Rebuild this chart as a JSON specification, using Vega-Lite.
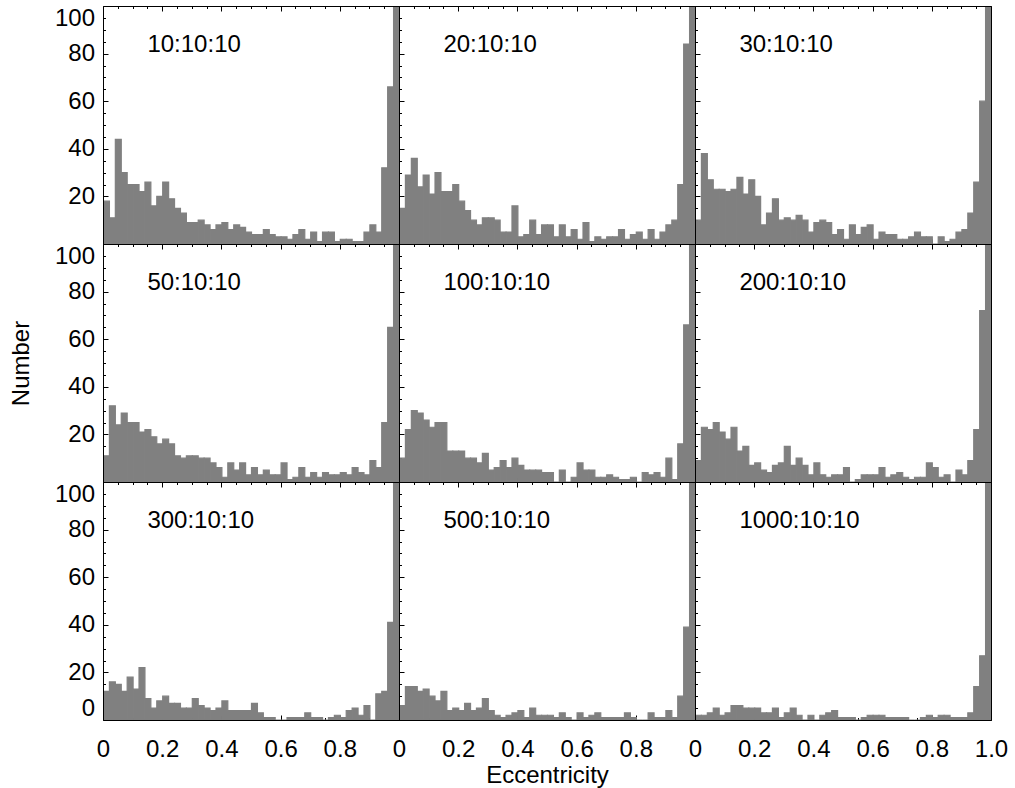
{
"$schema":"https://vega.github.io/schema/vega-lite/v6.json",
"background":"white",
"padding":{"left":8,"top":5,"right":5,"bottom":0},
"datasets":{"h":[
{"p":"10:10:10","e":0,"n":18},{"p":"10:10:10","e":0.02,"n":11},{"p":"10:10:10","e":0.04,"n":44},{"p":"10:10:10","e":0.06,"n":30},{"p":"10:10:10","e":0.08,"n":25},{"p":"10:10:10","e":0.1,"n":25},{"p":"10:10:10","e":0.12,"n":22},{"p":"10:10:10","e":0.14,"n":26},{"p":"10:10:10","e":0.16,"n":16},{"p":"10:10:10","e":0.18,"n":20},{"p":"10:10:10","e":0.2,"n":26},{"p":"10:10:10","e":0.22,"n":19},{"p":"10:10:10","e":0.24,"n":15},{"p":"10:10:10","e":0.26,"n":13},{"p":"10:10:10","e":0.28,"n":9},{"p":"10:10:10","e":0.3,"n":9},{"p":"10:10:10","e":0.32,"n":10},{"p":"10:10:10","e":0.34,"n":8},{"p":"10:10:10","e":0.36,"n":6},{"p":"10:10:10","e":0.38,"n":8},{"p":"10:10:10","e":0.4,"n":9},{"p":"10:10:10","e":0.42,"n":6},{"p":"10:10:10","e":0.44,"n":8},{"p":"10:10:10","e":0.46,"n":7},{"p":"10:10:10","e":0.48,"n":5},{"p":"10:10:10","e":0.5,"n":4},{"p":"10:10:10","e":0.52,"n":4},{"p":"10:10:10","e":0.54,"n":6},{"p":"10:10:10","e":0.56,"n":4},{"p":"10:10:10","e":0.58,"n":3},{"p":"10:10:10","e":0.6,"n":3},{"p":"10:10:10","e":0.62,"n":2},{"p":"10:10:10","e":0.64,"n":4},{"p":"10:10:10","e":0.66,"n":6},{"p":"10:10:10","e":0.68,"n":2},{"p":"10:10:10","e":0.7,"n":5},{"p":"10:10:10","e":0.72,"n":1},{"p":"10:10:10","e":0.74,"n":5},{"p":"10:10:10","e":0.76,"n":5},{"p":"10:10:10","e":0.78,"n":1},{"p":"10:10:10","e":0.8,"n":2},{"p":"10:10:10","e":0.82,"n":2},{"p":"10:10:10","e":0.84,"n":1},{"p":"10:10:10","e":0.86,"n":1},{"p":"10:10:10","e":0.88,"n":5},{"p":"10:10:10","e":0.9,"n":8},{"p":"10:10:10","e":0.92,"n":5},{"p":"10:10:10","e":0.94,"n":32},{"p":"10:10:10","e":0.96,"n":66},{"p":"10:10:10","e":0.98,"n":120},
{"p":"20:10:10","e":0,"n":15},{"p":"20:10:10","e":0.02,"n":29},{"p":"20:10:10","e":0.04,"n":36},{"p":"20:10:10","e":0.06,"n":24},{"p":"20:10:10","e":0.08,"n":29},{"p":"20:10:10","e":0.1,"n":21},{"p":"20:10:10","e":0.12,"n":30},{"p":"20:10:10","e":0.14,"n":22},{"p":"20:10:10","e":0.16,"n":22},{"p":"20:10:10","e":0.18,"n":25},{"p":"20:10:10","e":0.2,"n":18},{"p":"20:10:10","e":0.22,"n":14},{"p":"20:10:10","e":0.24,"n":10},{"p":"20:10:10","e":0.26,"n":8},{"p":"20:10:10","e":0.28,"n":11},{"p":"20:10:10","e":0.3,"n":11},{"p":"20:10:10","e":0.32,"n":10},{"p":"20:10:10","e":0.34,"n":5},{"p":"20:10:10","e":0.36,"n":5},{"p":"20:10:10","e":0.38,"n":16},{"p":"20:10:10","e":0.4,"n":3},{"p":"20:10:10","e":0.42,"n":4},{"p":"20:10:10","e":0.44,"n":10},{"p":"20:10:10","e":0.46,"n":4},{"p":"20:10:10","e":0.48,"n":8},{"p":"20:10:10","e":0.5,"n":8},{"p":"20:10:10","e":0.52,"n":3},{"p":"20:10:10","e":0.54,"n":8},{"p":"20:10:10","e":0.56,"n":3},{"p":"20:10:10","e":0.58,"n":6},{"p":"20:10:10","e":0.6,"n":2},{"p":"20:10:10","e":0.62,"n":9},{"p":"20:10:10","e":0.64,"n":1},{"p":"20:10:10","e":0.66,"n":3},{"p":"20:10:10","e":0.68,"n":2},{"p":"20:10:10","e":0.7,"n":3},{"p":"20:10:10","e":0.72,"n":3},{"p":"20:10:10","e":0.74,"n":6},{"p":"20:10:10","e":0.76,"n":2},{"p":"20:10:10","e":0.78,"n":4},{"p":"20:10:10","e":0.8,"n":5},{"p":"20:10:10","e":0.82,"n":2},{"p":"20:10:10","e":0.84,"n":6},{"p":"20:10:10","e":0.86,"n":2},{"p":"20:10:10","e":0.88,"n":5},{"p":"20:10:10","e":0.9,"n":8},{"p":"20:10:10","e":0.92,"n":10},{"p":"20:10:10","e":0.94,"n":25},{"p":"20:10:10","e":0.96,"n":84},{"p":"20:10:10","e":0.98,"n":120},
{"p":"30:10:10","e":0,"n":10},{"p":"30:10:10","e":0.02,"n":38},{"p":"30:10:10","e":0.04,"n":27},{"p":"30:10:10","e":0.06,"n":23},{"p":"30:10:10","e":0.08,"n":23},{"p":"30:10:10","e":0.1,"n":22},{"p":"30:10:10","e":0.12,"n":23},{"p":"30:10:10","e":0.14,"n":28},{"p":"30:10:10","e":0.16,"n":21},{"p":"30:10:10","e":0.18,"n":27},{"p":"30:10:10","e":0.2,"n":20},{"p":"30:10:10","e":0.22,"n":8},{"p":"30:10:10","e":0.24,"n":13},{"p":"30:10:10","e":0.26,"n":19},{"p":"30:10:10","e":0.28,"n":10},{"p":"30:10:10","e":0.3,"n":11},{"p":"30:10:10","e":0.32,"n":10},{"p":"30:10:10","e":0.34,"n":12},{"p":"30:10:10","e":0.36,"n":10},{"p":"30:10:10","e":0.38,"n":5},{"p":"30:10:10","e":0.4,"n":9},{"p":"30:10:10","e":0.42,"n":10},{"p":"30:10:10","e":0.44,"n":9},{"p":"30:10:10","e":0.46,"n":4},{"p":"30:10:10","e":0.48,"n":6},{"p":"30:10:10","e":0.5,"n":2},{"p":"30:10:10","e":0.52,"n":8},{"p":"30:10:10","e":0.54,"n":4},{"p":"30:10:10","e":0.56,"n":7},{"p":"30:10:10","e":0.58,"n":8},{"p":"30:10:10","e":0.6,"n":2},{"p":"30:10:10","e":0.62,"n":5},{"p":"30:10:10","e":0.64,"n":4},{"p":"30:10:10","e":0.66,"n":4},{"p":"30:10:10","e":0.68,"n":2},{"p":"30:10:10","e":0.7,"n":2},{"p":"30:10:10","e":0.72,"n":3},{"p":"30:10:10","e":0.74,"n":5},{"p":"30:10:10","e":0.76,"n":3},{"p":"30:10:10","e":0.78,"n":3},{"p":"30:10:10","e":0.8,"n":0},{"p":"30:10:10","e":0.82,"n":3},{"p":"30:10:10","e":0.84,"n":1},{"p":"30:10:10","e":0.86,"n":2},{"p":"30:10:10","e":0.88,"n":5},{"p":"30:10:10","e":0.9,"n":6},{"p":"30:10:10","e":0.92,"n":13},{"p":"30:10:10","e":0.94,"n":26},{"p":"30:10:10","e":0.96,"n":60},{"p":"30:10:10","e":0.98,"n":120},
{"p":"50:10:10","e":0,"n":11},{"p":"50:10:10","e":0.02,"n":32},{"p":"50:10:10","e":0.04,"n":24},{"p":"50:10:10","e":0.06,"n":29},{"p":"50:10:10","e":0.08,"n":25},{"p":"50:10:10","e":0.1,"n":25},{"p":"50:10:10","e":0.12,"n":21},{"p":"50:10:10","e":0.14,"n":22},{"p":"50:10:10","e":0.16,"n":19},{"p":"50:10:10","e":0.18,"n":16},{"p":"50:10:10","e":0.2,"n":18},{"p":"50:10:10","e":0.22,"n":16},{"p":"50:10:10","e":0.24,"n":11},{"p":"50:10:10","e":0.26,"n":10},{"p":"50:10:10","e":0.28,"n":11},{"p":"50:10:10","e":0.3,"n":11},{"p":"50:10:10","e":0.32,"n":10},{"p":"50:10:10","e":0.34,"n":10},{"p":"50:10:10","e":0.36,"n":8},{"p":"50:10:10","e":0.38,"n":6},{"p":"50:10:10","e":0.4,"n":2},{"p":"50:10:10","e":0.42,"n":8},{"p":"50:10:10","e":0.44,"n":5},{"p":"50:10:10","e":0.46,"n":8},{"p":"50:10:10","e":0.48,"n":3},{"p":"50:10:10","e":0.5,"n":6},{"p":"50:10:10","e":0.52,"n":3},{"p":"50:10:10","e":0.54,"n":5},{"p":"50:10:10","e":0.56,"n":3},{"p":"50:10:10","e":0.58,"n":3},{"p":"50:10:10","e":0.6,"n":8},{"p":"50:10:10","e":0.62,"n":1},{"p":"50:10:10","e":0.64,"n":2},{"p":"50:10:10","e":0.66,"n":6},{"p":"50:10:10","e":0.68,"n":2},{"p":"50:10:10","e":0.7,"n":4},{"p":"50:10:10","e":0.72,"n":2},{"p":"50:10:10","e":0.74,"n":4},{"p":"50:10:10","e":0.76,"n":3},{"p":"50:10:10","e":0.78,"n":3},{"p":"50:10:10","e":0.8,"n":4},{"p":"50:10:10","e":0.82,"n":3},{"p":"50:10:10","e":0.84,"n":6},{"p":"50:10:10","e":0.86,"n":4},{"p":"50:10:10","e":0.88,"n":3},{"p":"50:10:10","e":0.9,"n":9},{"p":"50:10:10","e":0.92,"n":6},{"p":"50:10:10","e":0.94,"n":25},{"p":"50:10:10","e":0.96,"n":65},{"p":"50:10:10","e":0.98,"n":120},
{"p":"100:10:10","e":0,"n":10},{"p":"100:10:10","e":0.02,"n":22},{"p":"100:10:10","e":0.04,"n":30},{"p":"100:10:10","e":0.06,"n":29},{"p":"100:10:10","e":0.08,"n":26},{"p":"100:10:10","e":0.1,"n":23},{"p":"100:10:10","e":0.12,"n":25},{"p":"100:10:10","e":0.14,"n":25},{"p":"100:10:10","e":0.16,"n":13},{"p":"100:10:10","e":0.18,"n":13},{"p":"100:10:10","e":0.2,"n":13},{"p":"100:10:10","e":0.22,"n":10},{"p":"100:10:10","e":0.24,"n":10},{"p":"100:10:10","e":0.26,"n":8},{"p":"100:10:10","e":0.28,"n":12},{"p":"100:10:10","e":0.3,"n":5},{"p":"100:10:10","e":0.32,"n":6},{"p":"100:10:10","e":0.34,"n":9},{"p":"100:10:10","e":0.36,"n":6},{"p":"100:10:10","e":0.38,"n":10},{"p":"100:10:10","e":0.4,"n":7},{"p":"100:10:10","e":0.42,"n":5},{"p":"100:10:10","e":0.44,"n":5},{"p":"100:10:10","e":0.46,"n":5},{"p":"100:10:10","e":0.48,"n":4},{"p":"100:10:10","e":0.5,"n":4},{"p":"100:10:10","e":0.52,"n":0},{"p":"100:10:10","e":0.54,"n":5},{"p":"100:10:10","e":0.56,"n":0},{"p":"100:10:10","e":0.58,"n":2},{"p":"100:10:10","e":0.6,"n":8},{"p":"100:10:10","e":0.62,"n":5},{"p":"100:10:10","e":0.64,"n":5},{"p":"100:10:10","e":0.66,"n":2},{"p":"100:10:10","e":0.68,"n":2},{"p":"100:10:10","e":0.7,"n":3},{"p":"100:10:10","e":0.72,"n":2},{"p":"100:10:10","e":0.74,"n":1},{"p":"100:10:10","e":0.76,"n":1},{"p":"100:10:10","e":0.78,"n":2},{"p":"100:10:10","e":0.8,"n":0},{"p":"100:10:10","e":0.82,"n":4},{"p":"100:10:10","e":0.84,"n":3},{"p":"100:10:10","e":0.86,"n":4},{"p":"100:10:10","e":0.88,"n":2},{"p":"100:10:10","e":0.9,"n":10},{"p":"100:10:10","e":0.92,"n":1},{"p":"100:10:10","e":0.94,"n":16},{"p":"100:10:10","e":0.96,"n":66},{"p":"100:10:10","e":0.98,"n":120},
{"p":"200:10:10","e":0,"n":9},{"p":"200:10:10","e":0.02,"n":23},{"p":"200:10:10","e":0.04,"n":22},{"p":"200:10:10","e":0.06,"n":25},{"p":"200:10:10","e":0.08,"n":21},{"p":"200:10:10","e":0.1,"n":18},{"p":"200:10:10","e":0.12,"n":23},{"p":"200:10:10","e":0.14,"n":13},{"p":"200:10:10","e":0.16,"n":15},{"p":"200:10:10","e":0.18,"n":7},{"p":"200:10:10","e":0.2,"n":8},{"p":"200:10:10","e":0.22,"n":5},{"p":"200:10:10","e":0.24,"n":4},{"p":"200:10:10","e":0.26,"n":7},{"p":"200:10:10","e":0.28,"n":8},{"p":"200:10:10","e":0.3,"n":15},{"p":"200:10:10","e":0.32,"n":7},{"p":"200:10:10","e":0.34,"n":10},{"p":"200:10:10","e":0.36,"n":7},{"p":"200:10:10","e":0.38,"n":3},{"p":"200:10:10","e":0.4,"n":8},{"p":"200:10:10","e":0.42,"n":3},{"p":"200:10:10","e":0.44,"n":2},{"p":"200:10:10","e":0.46,"n":3},{"p":"200:10:10","e":0.48,"n":3},{"p":"200:10:10","e":0.5,"n":6},{"p":"200:10:10","e":0.52,"n":0},{"p":"200:10:10","e":0.54,"n":1},{"p":"200:10:10","e":0.56,"n":3},{"p":"200:10:10","e":0.58,"n":3},{"p":"200:10:10","e":0.6,"n":3},{"p":"200:10:10","e":0.62,"n":6},{"p":"200:10:10","e":0.64,"n":2},{"p":"200:10:10","e":0.66,"n":3},{"p":"200:10:10","e":0.68,"n":4},{"p":"200:10:10","e":0.7,"n":2},{"p":"200:10:10","e":0.72,"n":1},{"p":"200:10:10","e":0.74,"n":2},{"p":"200:10:10","e":0.76,"n":2},{"p":"200:10:10","e":0.78,"n":8},{"p":"200:10:10","e":0.8,"n":6},{"p":"200:10:10","e":0.82,"n":2},{"p":"200:10:10","e":0.84,"n":3},{"p":"200:10:10","e":0.86,"n":0},{"p":"200:10:10","e":0.88,"n":5},{"p":"200:10:10","e":0.9,"n":3},{"p":"200:10:10","e":0.92,"n":9},{"p":"200:10:10","e":0.94,"n":22},{"p":"200:10:10","e":0.96,"n":72},{"p":"200:10:10","e":0.98,"n":120},
{"p":"300:10:10","e":0,"n":12},{"p":"300:10:10","e":0.02,"n":16},{"p":"300:10:10","e":0.04,"n":15},{"p":"300:10:10","e":0.06,"n":12},{"p":"300:10:10","e":0.08,"n":18},{"p":"300:10:10","e":0.1,"n":13},{"p":"300:10:10","e":0.12,"n":22},{"p":"300:10:10","e":0.14,"n":9},{"p":"300:10:10","e":0.16,"n":5},{"p":"300:10:10","e":0.18,"n":8},{"p":"300:10:10","e":0.2,"n":10},{"p":"300:10:10","e":0.22,"n":7},{"p":"300:10:10","e":0.24,"n":7},{"p":"300:10:10","e":0.26,"n":5},{"p":"300:10:10","e":0.28,"n":5},{"p":"300:10:10","e":0.3,"n":9},{"p":"300:10:10","e":0.32,"n":6},{"p":"300:10:10","e":0.34,"n":5},{"p":"300:10:10","e":0.36,"n":4},{"p":"300:10:10","e":0.38,"n":5},{"p":"300:10:10","e":0.4,"n":8},{"p":"300:10:10","e":0.42,"n":4},{"p":"300:10:10","e":0.44,"n":4},{"p":"300:10:10","e":0.46,"n":4},{"p":"300:10:10","e":0.48,"n":4},{"p":"300:10:10","e":0.5,"n":7},{"p":"300:10:10","e":0.52,"n":3},{"p":"300:10:10","e":0.54,"n":1},{"p":"300:10:10","e":0.56,"n":1},{"p":"300:10:10","e":0.58,"n":0},{"p":"300:10:10","e":0.6,"n":0},{"p":"300:10:10","e":0.62,"n":1},{"p":"300:10:10","e":0.64,"n":1},{"p":"300:10:10","e":0.66,"n":1},{"p":"300:10:10","e":0.68,"n":3},{"p":"300:10:10","e":0.7,"n":1},{"p":"300:10:10","e":0.72,"n":1},{"p":"300:10:10","e":0.74,"n":0},{"p":"300:10:10","e":0.76,"n":1},{"p":"300:10:10","e":0.78,"n":2},{"p":"300:10:10","e":0.8,"n":1},{"p":"300:10:10","e":0.82,"n":4},{"p":"300:10:10","e":0.84,"n":5},{"p":"300:10:10","e":0.86,"n":2},{"p":"300:10:10","e":0.88,"n":6},{"p":"300:10:10","e":0.9,"n":0},{"p":"300:10:10","e":0.92,"n":11},{"p":"300:10:10","e":0.94,"n":12},{"p":"300:10:10","e":0.96,"n":41},{"p":"300:10:10","e":0.98,"n":120},
{"p":"500:10:10","e":0,"n":6},{"p":"500:10:10","e":0.02,"n":14},{"p":"500:10:10","e":0.04,"n":14},{"p":"500:10:10","e":0.06,"n":12},{"p":"500:10:10","e":0.08,"n":13},{"p":"500:10:10","e":0.1,"n":10},{"p":"500:10:10","e":0.12,"n":8},{"p":"500:10:10","e":0.14,"n":12},{"p":"500:10:10","e":0.16,"n":4},{"p":"500:10:10","e":0.18,"n":5},{"p":"500:10:10","e":0.2,"n":4},{"p":"500:10:10","e":0.22,"n":7},{"p":"500:10:10","e":0.24,"n":4},{"p":"500:10:10","e":0.26,"n":5},{"p":"500:10:10","e":0.28,"n":9},{"p":"500:10:10","e":0.3,"n":4},{"p":"500:10:10","e":0.32,"n":2},{"p":"500:10:10","e":0.34,"n":1},{"p":"500:10:10","e":0.36,"n":2},{"p":"500:10:10","e":0.38,"n":3},{"p":"500:10:10","e":0.4,"n":4},{"p":"500:10:10","e":0.42,"n":1},{"p":"500:10:10","e":0.44,"n":5},{"p":"500:10:10","e":0.46,"n":2},{"p":"500:10:10","e":0.48,"n":2},{"p":"500:10:10","e":0.5,"n":2},{"p":"500:10:10","e":0.52,"n":1},{"p":"500:10:10","e":0.54,"n":3},{"p":"500:10:10","e":0.56,"n":1},{"p":"500:10:10","e":0.58,"n":0},{"p":"500:10:10","e":0.6,"n":3},{"p":"500:10:10","e":0.62,"n":1},{"p":"500:10:10","e":0.64,"n":2},{"p":"500:10:10","e":0.66,"n":3},{"p":"500:10:10","e":0.68,"n":1},{"p":"500:10:10","e":0.7,"n":1},{"p":"500:10:10","e":0.72,"n":1},{"p":"500:10:10","e":0.74,"n":1},{"p":"500:10:10","e":0.76,"n":3},{"p":"500:10:10","e":0.78,"n":1},{"p":"500:10:10","e":0.8,"n":0},{"p":"500:10:10","e":0.82,"n":0},{"p":"500:10:10","e":0.84,"n":3},{"p":"500:10:10","e":0.86,"n":1},{"p":"500:10:10","e":0.88,"n":1},{"p":"500:10:10","e":0.9,"n":4},{"p":"500:10:10","e":0.92,"n":1},{"p":"500:10:10","e":0.94,"n":10},{"p":"500:10:10","e":0.96,"n":39},{"p":"500:10:10","e":0.98,"n":120},
{"p":"1000:10:10","e":0,"n":2},{"p":"1000:10:10","e":0.02,"n":2},{"p":"1000:10:10","e":0.04,"n":3},{"p":"1000:10:10","e":0.06,"n":5},{"p":"1000:10:10","e":0.08,"n":2},{"p":"1000:10:10","e":0.1,"n":3},{"p":"1000:10:10","e":0.12,"n":6},{"p":"1000:10:10","e":0.14,"n":6},{"p":"1000:10:10","e":0.16,"n":5},{"p":"1000:10:10","e":0.18,"n":5},{"p":"1000:10:10","e":0.2,"n":5},{"p":"1000:10:10","e":0.22,"n":3},{"p":"1000:10:10","e":0.24,"n":3},{"p":"1000:10:10","e":0.26,"n":5},{"p":"1000:10:10","e":0.28,"n":1},{"p":"1000:10:10","e":0.3,"n":3},{"p":"1000:10:10","e":0.32,"n":5},{"p":"1000:10:10","e":0.34,"n":2},{"p":"1000:10:10","e":0.36,"n":0},{"p":"1000:10:10","e":0.38,"n":2},{"p":"1000:10:10","e":0.4,"n":0},{"p":"1000:10:10","e":0.42,"n":2},{"p":"1000:10:10","e":0.44,"n":3},{"p":"1000:10:10","e":0.46,"n":4},{"p":"1000:10:10","e":0.48,"n":1},{"p":"1000:10:10","e":0.5,"n":1},{"p":"1000:10:10","e":0.52,"n":1},{"p":"1000:10:10","e":0.54,"n":0},{"p":"1000:10:10","e":0.56,"n":1},{"p":"1000:10:10","e":0.58,"n":2},{"p":"1000:10:10","e":0.6,"n":2},{"p":"1000:10:10","e":0.62,"n":2},{"p":"1000:10:10","e":0.64,"n":1},{"p":"1000:10:10","e":0.66,"n":1},{"p":"1000:10:10","e":0.68,"n":1},{"p":"1000:10:10","e":0.7,"n":1},{"p":"1000:10:10","e":0.72,"n":0},{"p":"1000:10:10","e":0.74,"n":0},{"p":"1000:10:10","e":0.76,"n":1},{"p":"1000:10:10","e":0.78,"n":2},{"p":"1000:10:10","e":0.8,"n":1},{"p":"1000:10:10","e":0.82,"n":2},{"p":"1000:10:10","e":0.84,"n":2},{"p":"1000:10:10","e":0.86,"n":1},{"p":"1000:10:10","e":0.88,"n":1},{"p":"1000:10:10","e":0.9,"n":1},{"p":"1000:10:10","e":0.92,"n":3},{"p":"1000:10:10","e":0.94,"n":14},{"p":"1000:10:10","e":0.96,"n":27},{"p":"1000:10:10","e":0.98,"n":120}
]},
"columns":3,
"spacing":0,
"bounds":"flush",
"concat":[
{"width":296,"height":238,"data":{"name":"h"},"transform":[{"filter":"datum.p=='10:10:10'"}],"resolve":{"axis":{"x":"independent","y":"independent"}},
 "layer":[
  {"mark":{"type":"bar","color":"#808080","stroke":"#808080","strokeWidth":1.2,"binSpacing":0,"clip":true},"encoding":{
   "x":{"field":"e","type":"quantitative","bin":{"binned":true,"step":0.02},"scale":{"domain":[0,1],"nice":false},"axis":{"orient":"bottom","title":null,"values":[0,0.05,0.1,0.15,0.2,0.25,0.3,0.35,0.4,0.45,0.5,0.55,0.6,0.65,0.7,0.75,0.8,0.85,0.9,0.95,1],"labels":false,"tickSize":{"condition":{"test":"abs(datum.value*5-round(datum.value*5))<0.001","value":-5},"value":-2.5}}},
   "y":{"field":"n","type":"quantitative","scale":{"domain":[0,100],"nice":false},"axis":{"orient":"left","title":null,"values":[0,5,10,15,20,25,30,35,40,45,50,55,60,65,70,75,80,85,90,95,100],"labelExpr":"(datum.value%20==0 && datum.value>0) ? datum.label : ''","labelFlush":true,"labelPadding":13.5,"tickSize":{"condition":{"test":"datum.value%20==0","value":-5},"value":-2.5}}}}},
  {"mark":{"type":"bar","opacity":0,"binSpacing":0,"clip":true},"encoding":{
   "x":{"field":"e","type":"quantitative","bin":{"binned":true,"step":0.02},"axis":{"orient":"top","title":null,"values":[0,0.05,0.1,0.15,0.2,0.25,0.3,0.35,0.4,0.45,0.5,0.55,0.6,0.65,0.7,0.75,0.8,0.85,0.9,0.95,1],"labels":false,"tickSize":{"condition":{"test":"abs(datum.value*5-round(datum.value*5))<0.001","value":-5},"value":-2.5}}},
   "y":{"field":"n","type":"quantitative","axis":{"orient":"right","title":null,"values":[0,5,10,15,20,25,30,35,40,45,50,55,60,65,70,75,80,85,90,95,100],"labels":false,"tickSize":{"condition":{"test":"datum.value%20==0","value":-5},"value":-2.5}}}}},
  {"transform":[{"aggregate":[{"op":"count","as":"c"}],"groupby":["p"]}],"mark":{"type":"text","align":"left","baseline":"alphabetic","fontSize":24,"font":"Liberation Sans","color":"black"},"encoding":{"x":{"datum":0.15,"axis":null},"y":{"datum":80.5,"axis":null},"text":{"field":"p"}}}
 ]},
{"width":296,"height":238,"data":{"name":"h"},"transform":[{"filter":"datum.p=='20:10:10'"}],"resolve":{"axis":{"x":"independent","y":"independent"}},
 "layer":[
  {"mark":{"type":"bar","color":"#808080","stroke":"#808080","strokeWidth":1.2,"binSpacing":0,"clip":true},"encoding":{
   "x":{"field":"e","type":"quantitative","bin":{"binned":true,"step":0.02},"scale":{"domain":[0,1],"nice":false},"axis":{"orient":"bottom","title":null,"values":[0,0.05,0.1,0.15,0.2,0.25,0.3,0.35,0.4,0.45,0.5,0.55,0.6,0.65,0.7,0.75,0.8,0.85,0.9,0.95,1],"labels":false,"tickSize":{"condition":{"test":"abs(datum.value*5-round(datum.value*5))<0.001","value":-5},"value":-2.5}}},
   "y":{"field":"n","type":"quantitative","scale":{"domain":[0,100],"nice":false},"axis":{"orient":"left","title":null,"values":[0,5,10,15,20,25,30,35,40,45,50,55,60,65,70,75,80,85,90,95,100],"labels":false,"tickSize":{"condition":{"test":"datum.value%20==0","value":-5},"value":-2.5}}}}},
  {"mark":{"type":"bar","opacity":0,"binSpacing":0,"clip":true},"encoding":{
   "x":{"field":"e","type":"quantitative","bin":{"binned":true,"step":0.02},"axis":{"orient":"top","title":null,"values":[0,0.05,0.1,0.15,0.2,0.25,0.3,0.35,0.4,0.45,0.5,0.55,0.6,0.65,0.7,0.75,0.8,0.85,0.9,0.95,1],"labels":false,"tickSize":{"condition":{"test":"abs(datum.value*5-round(datum.value*5))<0.001","value":-5},"value":-2.5}}},
   "y":{"field":"n","type":"quantitative","axis":{"orient":"right","title":null,"values":[0,5,10,15,20,25,30,35,40,45,50,55,60,65,70,75,80,85,90,95,100],"labels":false,"tickSize":{"condition":{"test":"datum.value%20==0","value":-5},"value":-2.5}}}}},
  {"transform":[{"aggregate":[{"op":"count","as":"c"}],"groupby":["p"]}],"mark":{"type":"text","align":"left","baseline":"alphabetic","fontSize":24,"font":"Liberation Sans","color":"black"},"encoding":{"x":{"datum":0.15,"axis":null},"y":{"datum":80.5,"axis":null},"text":{"field":"p"}}}
 ]},
{"width":296,"height":238,"data":{"name":"h"},"transform":[{"filter":"datum.p=='30:10:10'"}],"resolve":{"axis":{"x":"independent","y":"independent"}},
 "layer":[
  {"mark":{"type":"bar","color":"#808080","stroke":"#808080","strokeWidth":1.2,"binSpacing":0,"clip":true},"encoding":{
   "x":{"field":"e","type":"quantitative","bin":{"binned":true,"step":0.02},"scale":{"domain":[0,1],"nice":false},"axis":{"orient":"bottom","title":null,"values":[0,0.05,0.1,0.15,0.2,0.25,0.3,0.35,0.4,0.45,0.5,0.55,0.6,0.65,0.7,0.75,0.8,0.85,0.9,0.95,1],"labels":false,"tickSize":{"condition":{"test":"abs(datum.value*5-round(datum.value*5))<0.001","value":-5},"value":-2.5}}},
   "y":{"field":"n","type":"quantitative","scale":{"domain":[0,100],"nice":false},"axis":{"orient":"left","title":null,"values":[0,5,10,15,20,25,30,35,40,45,50,55,60,65,70,75,80,85,90,95,100],"labels":false,"tickSize":{"condition":{"test":"datum.value%20==0","value":-5},"value":-2.5}}}}},
  {"mark":{"type":"bar","opacity":0,"binSpacing":0,"clip":true},"encoding":{
   "x":{"field":"e","type":"quantitative","bin":{"binned":true,"step":0.02},"axis":{"orient":"top","title":null,"values":[0,0.05,0.1,0.15,0.2,0.25,0.3,0.35,0.4,0.45,0.5,0.55,0.6,0.65,0.7,0.75,0.8,0.85,0.9,0.95,1],"labels":false,"tickSize":{"condition":{"test":"abs(datum.value*5-round(datum.value*5))<0.001","value":-5},"value":-2.5}}},
   "y":{"field":"n","type":"quantitative","axis":{"orient":"right","title":null,"values":[0,5,10,15,20,25,30,35,40,45,50,55,60,65,70,75,80,85,90,95,100],"labels":false,"tickSize":{"condition":{"test":"datum.value%20==0","value":-5},"value":-2.5}}}}},
  {"transform":[{"aggregate":[{"op":"count","as":"c"}],"groupby":["p"]}],"mark":{"type":"text","align":"left","baseline":"alphabetic","fontSize":24,"font":"Liberation Sans","color":"black"},"encoding":{"x":{"datum":0.15,"axis":null},"y":{"datum":80.5,"axis":null},"text":{"field":"p"}}}
 ]},
{"width":296,"height":238,"data":{"name":"h"},"transform":[{"filter":"datum.p=='50:10:10'"}],"resolve":{"axis":{"x":"independent","y":"independent"}},
 "layer":[
  {"mark":{"type":"bar","color":"#808080","stroke":"#808080","strokeWidth":1.2,"binSpacing":0,"clip":true},"encoding":{
   "x":{"field":"e","type":"quantitative","bin":{"binned":true,"step":0.02},"scale":{"domain":[0,1],"nice":false},"axis":{"orient":"bottom","title":null,"values":[0,0.05,0.1,0.15,0.2,0.25,0.3,0.35,0.4,0.45,0.5,0.55,0.6,0.65,0.7,0.75,0.8,0.85,0.9,0.95,1],"labels":false,"tickSize":{"condition":{"test":"abs(datum.value*5-round(datum.value*5))<0.001","value":-5},"value":-2.5}}},
   "y":{"field":"n","type":"quantitative","scale":{"domain":[0,100],"nice":false},"axis":{"orient":"left","title":"Number","titlePadding":21,"values":[0,5,10,15,20,25,30,35,40,45,50,55,60,65,70,75,80,85,90,95,100],"labelExpr":"(datum.value%20==0 && datum.value>0) ? datum.label : ''","labelFlush":true,"labelPadding":13.5,"tickSize":{"condition":{"test":"datum.value%20==0","value":-5},"value":-2.5}}}}},
  {"mark":{"type":"bar","opacity":0,"binSpacing":0,"clip":true},"encoding":{
   "x":{"field":"e","type":"quantitative","bin":{"binned":true,"step":0.02},"axis":{"orient":"top","title":null,"values":[0,0.05,0.1,0.15,0.2,0.25,0.3,0.35,0.4,0.45,0.5,0.55,0.6,0.65,0.7,0.75,0.8,0.85,0.9,0.95,1],"labels":false,"tickSize":{"condition":{"test":"abs(datum.value*5-round(datum.value*5))<0.001","value":-5},"value":-2.5}}},
   "y":{"field":"n","type":"quantitative","axis":{"orient":"right","title":null,"values":[0,5,10,15,20,25,30,35,40,45,50,55,60,65,70,75,80,85,90,95,100],"labels":false,"tickSize":{"condition":{"test":"datum.value%20==0","value":-5},"value":-2.5}}}}},
  {"transform":[{"aggregate":[{"op":"count","as":"c"}],"groupby":["p"]}],"mark":{"type":"text","align":"left","baseline":"alphabetic","fontSize":24,"font":"Liberation Sans","color":"black"},"encoding":{"x":{"datum":0.15,"axis":null},"y":{"datum":80.5,"axis":null},"text":{"field":"p"}}}
 ]},
{"width":296,"height":238,"data":{"name":"h"},"transform":[{"filter":"datum.p=='100:10:10'"}],"resolve":{"axis":{"x":"independent","y":"independent"}},
 "layer":[
  {"mark":{"type":"bar","color":"#808080","stroke":"#808080","strokeWidth":1.2,"binSpacing":0,"clip":true},"encoding":{
   "x":{"field":"e","type":"quantitative","bin":{"binned":true,"step":0.02},"scale":{"domain":[0,1],"nice":false},"axis":{"orient":"bottom","title":null,"values":[0,0.05,0.1,0.15,0.2,0.25,0.3,0.35,0.4,0.45,0.5,0.55,0.6,0.65,0.7,0.75,0.8,0.85,0.9,0.95,1],"labels":false,"tickSize":{"condition":{"test":"abs(datum.value*5-round(datum.value*5))<0.001","value":-5},"value":-2.5}}},
   "y":{"field":"n","type":"quantitative","scale":{"domain":[0,100],"nice":false},"axis":{"orient":"left","title":null,"values":[0,5,10,15,20,25,30,35,40,45,50,55,60,65,70,75,80,85,90,95,100],"labels":false,"tickSize":{"condition":{"test":"datum.value%20==0","value":-5},"value":-2.5}}}}},
  {"mark":{"type":"bar","opacity":0,"binSpacing":0,"clip":true},"encoding":{
   "x":{"field":"e","type":"quantitative","bin":{"binned":true,"step":0.02},"axis":{"orient":"top","title":null,"values":[0,0.05,0.1,0.15,0.2,0.25,0.3,0.35,0.4,0.45,0.5,0.55,0.6,0.65,0.7,0.75,0.8,0.85,0.9,0.95,1],"labels":false,"tickSize":{"condition":{"test":"abs(datum.value*5-round(datum.value*5))<0.001","value":-5},"value":-2.5}}},
   "y":{"field":"n","type":"quantitative","axis":{"orient":"right","title":null,"values":[0,5,10,15,20,25,30,35,40,45,50,55,60,65,70,75,80,85,90,95,100],"labels":false,"tickSize":{"condition":{"test":"datum.value%20==0","value":-5},"value":-2.5}}}}},
  {"transform":[{"aggregate":[{"op":"count","as":"c"}],"groupby":["p"]}],"mark":{"type":"text","align":"left","baseline":"alphabetic","fontSize":24,"font":"Liberation Sans","color":"black"},"encoding":{"x":{"datum":0.15,"axis":null},"y":{"datum":80.5,"axis":null},"text":{"field":"p"}}}
 ]},
{"width":296,"height":238,"data":{"name":"h"},"transform":[{"filter":"datum.p=='200:10:10'"}],"resolve":{"axis":{"x":"independent","y":"independent"}},
 "layer":[
  {"mark":{"type":"bar","color":"#808080","stroke":"#808080","strokeWidth":1.2,"binSpacing":0,"clip":true},"encoding":{
   "x":{"field":"e","type":"quantitative","bin":{"binned":true,"step":0.02},"scale":{"domain":[0,1],"nice":false},"axis":{"orient":"bottom","title":null,"values":[0,0.05,0.1,0.15,0.2,0.25,0.3,0.35,0.4,0.45,0.5,0.55,0.6,0.65,0.7,0.75,0.8,0.85,0.9,0.95,1],"labels":false,"tickSize":{"condition":{"test":"abs(datum.value*5-round(datum.value*5))<0.001","value":-5},"value":-2.5}}},
   "y":{"field":"n","type":"quantitative","scale":{"domain":[0,100],"nice":false},"axis":{"orient":"left","title":null,"values":[0,5,10,15,20,25,30,35,40,45,50,55,60,65,70,75,80,85,90,95,100],"labels":false,"tickSize":{"condition":{"test":"datum.value%20==0","value":-5},"value":-2.5}}}}},
  {"mark":{"type":"bar","opacity":0,"binSpacing":0,"clip":true},"encoding":{
   "x":{"field":"e","type":"quantitative","bin":{"binned":true,"step":0.02},"axis":{"orient":"top","title":null,"values":[0,0.05,0.1,0.15,0.2,0.25,0.3,0.35,0.4,0.45,0.5,0.55,0.6,0.65,0.7,0.75,0.8,0.85,0.9,0.95,1],"labels":false,"tickSize":{"condition":{"test":"abs(datum.value*5-round(datum.value*5))<0.001","value":-5},"value":-2.5}}},
   "y":{"field":"n","type":"quantitative","axis":{"orient":"right","title":null,"values":[0,5,10,15,20,25,30,35,40,45,50,55,60,65,70,75,80,85,90,95,100],"labels":false,"tickSize":{"condition":{"test":"datum.value%20==0","value":-5},"value":-2.5}}}}},
  {"transform":[{"aggregate":[{"op":"count","as":"c"}],"groupby":["p"]}],"mark":{"type":"text","align":"left","baseline":"alphabetic","fontSize":24,"font":"Liberation Sans","color":"black"},"encoding":{"x":{"datum":0.15,"axis":null},"y":{"datum":80.5,"axis":null},"text":{"field":"p"}}}
 ]},
{"width":296,"height":238,"data":{"name":"h"},"transform":[{"filter":"datum.p=='300:10:10'"}],"resolve":{"axis":{"x":"independent","y":"independent"}},
 "layer":[
  {"mark":{"type":"bar","color":"#808080","stroke":"#808080","strokeWidth":1.2,"binSpacing":0,"clip":true},"encoding":{
   "x":{"field":"e","type":"quantitative","bin":{"binned":true,"step":0.02},"scale":{"domain":[0,1],"nice":false},"axis":{"orient":"bottom","title":null,"values":[0,0.05,0.1,0.15,0.2,0.25,0.3,0.35,0.4,0.45,0.5,0.55,0.6,0.65,0.7,0.75,0.8,0.85,0.9,0.95,1],"labelFlush":false,"labelPadding":22,"labelExpr":"(abs(datum.value*5-round(datum.value*5))<0.001 && datum.value<0.9) ? (datum.value==0 ? '0' : format(datum.value,'.1f')) : ''","tickSize":{"condition":{"test":"abs(datum.value*5-round(datum.value*5))<0.001","value":-5},"value":-2.5}}},
   "y":{"field":"n","type":"quantitative","scale":{"domain":[0,100],"nice":false},"axis":{"orient":"left","title":null,"values":[0,5,10,15,20,25,30,35,40,45,50,55,60,65,70,75,80,85,90,95,100],"labelExpr":"datum.value%20==0 ? datum.label : ''","labelFlush":true,"labelPadding":13.5,"tickSize":{"condition":{"test":"datum.value%20==0","value":-5},"value":-2.5}}}}},
  {"mark":{"type":"bar","opacity":0,"binSpacing":0,"clip":true},"encoding":{
   "x":{"field":"e","type":"quantitative","bin":{"binned":true,"step":0.02},"axis":{"orient":"top","title":null,"values":[0,0.05,0.1,0.15,0.2,0.25,0.3,0.35,0.4,0.45,0.5,0.55,0.6,0.65,0.7,0.75,0.8,0.85,0.9,0.95,1],"labels":false,"tickSize":{"condition":{"test":"abs(datum.value*5-round(datum.value*5))<0.001","value":-5},"value":-2.5}}},
   "y":{"field":"n","type":"quantitative","axis":{"orient":"right","title":null,"values":[0,5,10,15,20,25,30,35,40,45,50,55,60,65,70,75,80,85,90,95,100],"labels":false,"tickSize":{"condition":{"test":"datum.value%20==0","value":-5},"value":-2.5}}}}},
  {"transform":[{"aggregate":[{"op":"count","as":"c"}],"groupby":["p"]}],"mark":{"type":"text","align":"left","baseline":"alphabetic","fontSize":24,"font":"Liberation Sans","color":"black"},"encoding":{"x":{"datum":0.15,"axis":null},"y":{"datum":80.5,"axis":null},"text":{"field":"p"}}}
 ]},
{"width":296,"height":238,"data":{"name":"h"},"transform":[{"filter":"datum.p=='500:10:10'"}],"resolve":{"axis":{"x":"independent","y":"independent"}},
 "layer":[
  {"mark":{"type":"bar","color":"#808080","stroke":"#808080","strokeWidth":1.2,"binSpacing":0,"clip":true},"encoding":{
   "x":{"field":"e","type":"quantitative","bin":{"binned":true,"step":0.02},"scale":{"domain":[0,1],"nice":false},"axis":{"orient":"bottom","title":"Eccentricity","titlePadding":0,"values":[0,0.05,0.1,0.15,0.2,0.25,0.3,0.35,0.4,0.45,0.5,0.55,0.6,0.65,0.7,0.75,0.8,0.85,0.9,0.95,1],"labelFlush":false,"labelPadding":22,"labelExpr":"(abs(datum.value*5-round(datum.value*5))<0.001 && datum.value<0.9) ? (datum.value==0 ? '0' : format(datum.value,'.1f')) : ''","tickSize":{"condition":{"test":"abs(datum.value*5-round(datum.value*5))<0.001","value":-5},"value":-2.5}}},
   "y":{"field":"n","type":"quantitative","scale":{"domain":[0,100],"nice":false},"axis":{"orient":"left","title":null,"values":[0,5,10,15,20,25,30,35,40,45,50,55,60,65,70,75,80,85,90,95,100],"labels":false,"tickSize":{"condition":{"test":"datum.value%20==0","value":-5},"value":-2.5}}}}},
  {"mark":{"type":"bar","opacity":0,"binSpacing":0,"clip":true},"encoding":{
   "x":{"field":"e","type":"quantitative","bin":{"binned":true,"step":0.02},"axis":{"orient":"top","title":null,"values":[0,0.05,0.1,0.15,0.2,0.25,0.3,0.35,0.4,0.45,0.5,0.55,0.6,0.65,0.7,0.75,0.8,0.85,0.9,0.95,1],"labels":false,"tickSize":{"condition":{"test":"abs(datum.value*5-round(datum.value*5))<0.001","value":-5},"value":-2.5}}},
   "y":{"field":"n","type":"quantitative","axis":{"orient":"right","title":null,"values":[0,5,10,15,20,25,30,35,40,45,50,55,60,65,70,75,80,85,90,95,100],"labels":false,"tickSize":{"condition":{"test":"datum.value%20==0","value":-5},"value":-2.5}}}}},
  {"transform":[{"aggregate":[{"op":"count","as":"c"}],"groupby":["p"]}],"mark":{"type":"text","align":"left","baseline":"alphabetic","fontSize":24,"font":"Liberation Sans","color":"black"},"encoding":{"x":{"datum":0.15,"axis":null},"y":{"datum":80.5,"axis":null},"text":{"field":"p"}}}
 ]},
{"width":296,"height":238,"data":{"name":"h"},"transform":[{"filter":"datum.p=='1000:10:10'"}],"resolve":{"axis":{"x":"independent","y":"independent"}},
 "layer":[
  {"mark":{"type":"bar","color":"#808080","stroke":"#808080","strokeWidth":1.2,"binSpacing":0,"clip":true},"encoding":{
   "x":{"field":"e","type":"quantitative","bin":{"binned":true,"step":0.02},"scale":{"domain":[0,1],"nice":false},"axis":{"orient":"bottom","title":null,"values":[0,0.05,0.1,0.15,0.2,0.25,0.3,0.35,0.4,0.45,0.5,0.55,0.6,0.65,0.7,0.75,0.8,0.85,0.9,0.95,1],"labelFlush":false,"labelPadding":22,"labelExpr":"abs(datum.value*5-round(datum.value*5))<0.001 ? (datum.value==0 ? '0' : format(datum.value,'.1f')) : ''","tickSize":{"condition":{"test":"abs(datum.value*5-round(datum.value*5))<0.001","value":-5},"value":-2.5}}},
   "y":{"field":"n","type":"quantitative","scale":{"domain":[0,100],"nice":false},"axis":{"orient":"left","title":null,"values":[0,5,10,15,20,25,30,35,40,45,50,55,60,65,70,75,80,85,90,95,100],"labels":false,"tickSize":{"condition":{"test":"datum.value%20==0","value":-5},"value":-2.5}}}}},
  {"mark":{"type":"bar","opacity":0,"binSpacing":0,"clip":true},"encoding":{
   "x":{"field":"e","type":"quantitative","bin":{"binned":true,"step":0.02},"axis":{"orient":"top","title":null,"values":[0,0.05,0.1,0.15,0.2,0.25,0.3,0.35,0.4,0.45,0.5,0.55,0.6,0.65,0.7,0.75,0.8,0.85,0.9,0.95,1],"labels":false,"tickSize":{"condition":{"test":"abs(datum.value*5-round(datum.value*5))<0.001","value":-5},"value":-2.5}}},
   "y":{"field":"n","type":"quantitative","axis":{"orient":"right","title":null,"values":[0,5,10,15,20,25,30,35,40,45,50,55,60,65,70,75,80,85,90,95,100],"labels":false,"tickSize":{"condition":{"test":"datum.value%20==0","value":-5},"value":-2.5}}}}},
  {"transform":[{"aggregate":[{"op":"count","as":"c"}],"groupby":["p"]}],"mark":{"type":"text","align":"left","baseline":"alphabetic","fontSize":24,"font":"Liberation Sans","color":"black"},"encoding":{"x":{"datum":0.15,"axis":null},"y":{"datum":80.5,"axis":null},"text":{"field":"p"}}}
 ]}
],
"config":{
 "view":{"stroke":"black","strokeWidth":1},
 "style":{"cell":{"strokeForeground":true}},
 "axis":{"grid":false,"domain":false,"tickColor":"black","tickWidth":1,"labelFont":"Liberation Sans","labelFontSize":24,"labelColor":"black","titleFont":"Liberation Sans","titleFontSize":24,"titleFontWeight":"normal","titleColor":"black","labelOverlap":false}
}
}
